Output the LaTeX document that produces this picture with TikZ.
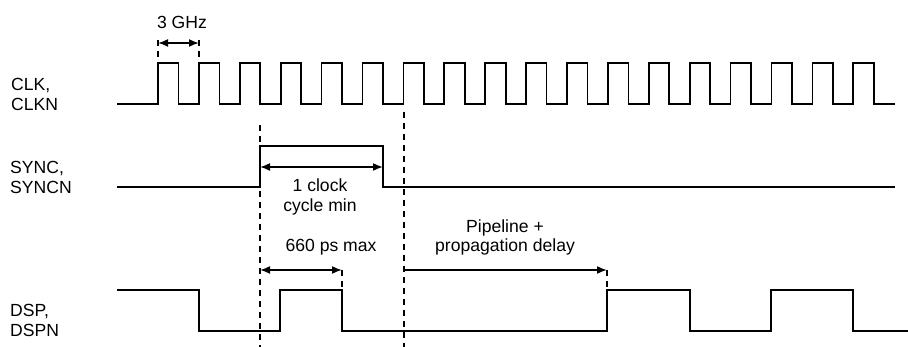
\documentclass[tikz,border=0pt]{standalone}
\usepackage{fontspec}
\setmainfont{Liberation Sans}
\usetikzlibrary{arrows.meta}

\begin{document}
\begin{tikzpicture}[
    x=0.3mm, y=-0.3mm,
    font=\fontsize{15}{17}\selectfont,
    signame/.style={anchor=west, align=left, inner sep=0pt},
    note/.style={align=center, inner sep=0pt},
    wave/.style={line width=0.5mm, line join=miter},
    guide/.style={line width=0.4mm, dash pattern=on 1.8mm off 1.5mm},
    dim/.style={line width=0.5mm, <->, >={Latex[length=3mm, width=2.4mm]}},
    dimright/.style={line width=0.5mm, ->, >={Latex[length=3mm, width=2.4mm]}}
]
\useasboundingbox (0,0) rectangle (908,347);

% --- Signal names ---
\node (clk) at (11, 94.5) [signame] {CLK,\\CLKN};
\node (sync) at (10, 177.5) [signame] {SYNC,\\SYNCN};
\node (dsp) at (10, 320) [signame] {DSP,\\DSPN};

% --- Waveforms ---
% Clock: 18 pulses
\draw [wave] (117,104) foreach \k in {0,...,17} {
    -- ({158+40.9*\k},104) -- ++(0,-41) -- ++(20.5,0) -- ++(0,41)} -- (895,104);
% Sync
\draw [wave] (117,187) -- (260,187) -- (260,146) -- (383,146) -- (383,187) -- (895,187);
% DSP
\draw [wave] (117,290) -- (199,290) -- (199,331) -- (280,331) -- (280,290) -- (342,290)
    -- (342,331) -- (607,331) -- (607,290) -- (690,290) -- (690,331) -- (771,331)
    -- (771,290) -- (853,290) -- (853,331) -- (908,331);

% --- Reference points ---
\coordinate (ghzA) at (158,43);
\coordinate (ghzB) at (199,43);
\coordinate (syncA) at (260,167);
\coordinate (syncB) at (383,167);
\coordinate (dspA) at (260,270);
\coordinate (dspB) at (342,270);
\coordinate (pipeA) at (404,270);
\coordinate (pipeB) at (607,270);

% --- Guides ---
\draw [guide] (158,40) -- (158,63);
\draw [guide] (199,40) -- (199,63);
\draw [guide] (260,125) -- (260,347);
\draw [guide] (404,112) -- (404,347);
\draw [guide] (342,270) -- (342,290);
\draw [guide] (607,270) -- (607,290);

% --- Dimensions ---
\draw [dim] (ghzA) -- (ghzB);
\node (ghz) at (182,22) [note] {3 GHz};
\draw [dim] (syncA) -- (syncB);
\node (cycle) at (320,197) [note] {1 clock\\cycle min};
\draw [dim] (dspA) -- (dspB);
\node (max) at (331,247) [note] {660 ps max};
\draw [dimright] (pipeA) -- (pipeB);
\node (pipe) at (505,237.5) [note] {Pipeline +\\propagation delay};

\end{tikzpicture}
\end{document}
